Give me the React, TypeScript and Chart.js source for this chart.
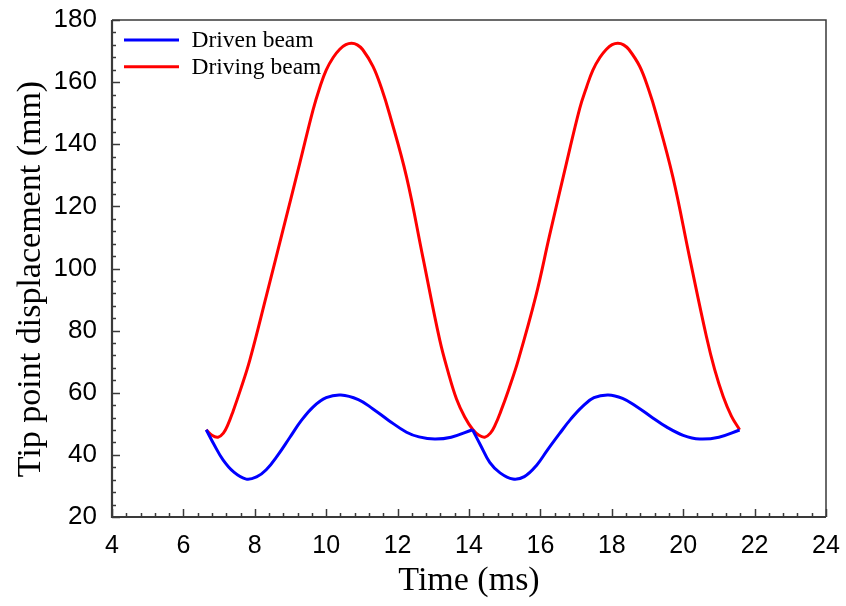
import React, { useEffect, useRef } from "react";
import { Chart, registerables } from "chart.js";

Chart.register(...registerables);

// Driven beam (blue), first cycle
const drivenTimeA = [6.64, 6.85, 7.11, 7.4, 7.76, 8.05, 8.32, 8.65, 8.98, 9.3, 9.63, 10.0, 10.41, 10.9, 11.31, 11.75, 12.25, 12.6, 13.04, 13.5, 14.1];
const drivenDispA = [48.1, 43.5, 38.4, 34.6, 32.2, 32.9, 35.2, 40.0, 45.6, 51.0, 55.4, 58.4, 59.3, 57.8, 54.8, 51.1, 47.3, 45.8, 45.1, 45.7, 48.1];

// Driven beam (blue), second cycle
const drivenTimeB = [14.1, 14.32, 14.58, 14.87, 15.23, 15.55, 15.89, 16.2, 16.54, 16.85, 17.19, 17.5, 17.9, 18.3, 18.69, 19.1, 19.53, 20.0, 20.46, 21.0, 21.58];
const drivenDispB = [48.1, 43.2, 37.6, 34.2, 32.2, 33.0, 36.6, 41.6, 46.9, 51.5, 55.7, 58.4, 59.3, 58.2, 55.6, 52.3, 49.0, 46.3, 45.1, 45.7, 48.0];

// Driving beam (red)
const drivingTime = [6.64, 6.8, 6.97, 7.12, 7.25, 7.39, 7.6, 7.86, 8.32, 8.79, 9.26, 9.63, 9.82, 10.0, 10.2, 10.38, 10.55, 10.71, 10.87, 11.02, 11.31, 11.55, 11.78, 12.25, 12.71, 13.18, 13.42, 13.65, 13.88, 14.11, 14.28, 14.44, 14.6, 14.74, 14.89, 15.11, 15.38, 15.87, 16.26, 16.73, 17.1, 17.29, 17.47, 17.67, 17.85, 18.01, 18.17, 18.33, 18.48, 18.78, 19.02, 19.25, 19.71, 20.18, 20.65, 20.88, 21.12, 21.35, 21.58];
const drivingDisp = [48.1, 46.3, 45.7, 47.0, 49.8, 54.0, 61.0, 70.5, 91.0, 112.4, 133.9, 151.0, 158.3, 163.9, 168.0, 170.6, 172.05, 172.5, 172.0, 170.5, 165.1, 158.0, 149.5, 129.5, 103.5, 77.0, 66.5, 58.0, 52.2, 48.1, 46.3, 45.7, 47.0, 49.8, 54.0, 61.0, 70.5, 91.0, 110.8, 133.9, 151.5, 158.3, 163.9, 168.0, 170.6, 172.05, 172.5, 172.0, 170.5, 165.1, 158.0, 149.5, 129.5, 103.5, 78.1, 67.5, 58.8, 52.5, 48.1];

const seriesLabels = ["Driven beam", "Driving beam"];
const seriesColors = ["#0000ff", "#ff0000"];
const xTitle = "Time (ms)";
const yTitle = "Tip point displacement (mm)";

const xMin = 4, xMax = 24, xStep = 2, xMinorDiv = 5;
const yMin = 20, yMax = 180, yStep = 20, yMinorDiv = 5;

const SANS = '"Liberation Sans", Arial, Helvetica, sans-serif';
const SERIF = '"Liberation Serif", "Times New Roman", Times, serif';

const toPoints = (xs: number[], ys: number[]) => xs.map((x, i) => ({ x, y: ys[i] }));

const framePlugin = {
  id: "frameTicksLegend",
  afterDatasetsDraw(chart: any) {
    const { ctx, chartArea } = chart;
    const { left, right, top, bottom } = chartArea;
    const xs = chart.scales.x;
    const ys = chart.scales.y;
    ctx.save();
    ctx.strokeStyle = "#3a3a3a";
    ctx.lineWidth = 1.5;
    const nx = Math.round((xMax - xMin) / xStep) * xMinorDiv;
    for (let i = 0; i <= nx; i++) {
      const v = xMin + (i * xStep) / xMinorDiv;
      const px = Math.round(xs.getPixelForValue(v)) + 0.5;
      const len = i % xMinorDiv === 0 ? 8 : 4;
      ctx.beginPath();
      ctx.moveTo(px, bottom);
      ctx.lineTo(px, bottom - len);
      ctx.stroke();
    }
    const ny = Math.round((yMax - yMin) / yStep) * yMinorDiv;
    for (let i = 0; i <= ny; i++) {
      const v = yMin + (i * yStep) / yMinorDiv;
      const py = Math.round(ys.getPixelForValue(v)) + 0.5;
      const len = i % yMinorDiv === 0 ? 8 : 4;
      ctx.beginPath();
      ctx.moveTo(left, py);
      ctx.lineTo(left + len, py);
      ctx.stroke();
    }
    // frame
    ctx.lineWidth = 1.5;
    ctx.beginPath();
    ctx.moveTo(left, top);
    ctx.lineTo(right, top);
    ctx.lineTo(right, bottom);
    ctx.stroke();
    ctx.lineWidth = 2.2;
    ctx.beginPath();
    ctx.moveTo(left, top);
    ctx.lineTo(left, bottom);
    ctx.lineTo(right, bottom);
    ctx.stroke();

    // legend inside plot (top-left)
    ctx.font = "23.5px " + SERIF;
    ctx.textBaseline = "middle";
    ctx.textAlign = "left";
    const lx = left + 12;
    const lineLen = 55;
    const rowH = 26.7;
    for (let i = 0; i < seriesLabels.length; i++) {
      const y = top + 20 + i * rowH;
      ctx.strokeStyle = seriesColors[i];
      ctx.lineWidth = 3;
      ctx.beginPath();
      ctx.moveTo(lx, y);
      ctx.lineTo(lx + lineLen, y);
      ctx.stroke();
      ctx.fillStyle = "#000";
      ctx.fillText(seriesLabels[i], lx + lineLen + 12.5, y + 1);
    }

    // y-axis title
    ctx.font = "34px " + SERIF;
    ctx.fillStyle = "#000";
    ctx.textAlign = "center";
    ctx.textBaseline = "middle";
    ctx.translate(31, (top + bottom) / 2 + 10.5);
    ctx.rotate(-Math.PI / 2);
    ctx.fillText(yTitle, 0, 0);
    ctx.restore();
  },
};

const zeroPad = (s: any) => {
  s.paddingTop = 0;
  s.paddingBottom = 0;
  s.paddingLeft = 0;
  s.paddingRight = 0;
};

export default function App() {
  const ref = useRef<HTMLCanvasElement>(null);
  useEffect(() => {
    if (!ref.current) return;
    const lineStyle = (color: string) => ({
      borderColor: color,
      backgroundColor: color,
      borderWidth: 3,
      pointRadius: 0,
      fill: false,
      tension: 0.4,
    });
    const chart = new Chart(ref.current, {
      type: "line",
      data: {
        datasets: [
          { label: seriesLabels[0], data: toPoints(drivenTimeA, drivenDispA), ...lineStyle(seriesColors[0]) },
          { label: seriesLabels[0] + " (2)", data: toPoints(drivenTimeB, drivenDispB), ...lineStyle(seriesColors[0]) },
          { label: seriesLabels[1], data: toPoints(drivingTime, drivingDisp), ...lineStyle(seriesColors[1]) },
        ],
      },
      options: {
        responsive: true,
        maintainAspectRatio: false,
        animation: false,
        parsing: false,
        layout: { padding: { top: 20, right: 20, left: 0, bottom: 0 } },
        plugins: { legend: { display: false }, tooltip: { enabled: false } },
        scales: {
          x: {
            type: "linear",
            min: xMin,
            max: xMax,
            ticks: { stepSize: xStep, font: { family: SANS, size: 25 }, color: "#000", padding: 14, maxRotation: 0, autoSkip: false },
            grid: { display: false, drawTicks: false },
            border: { display: false },
            title: { display: true, text: xTitle, font: { family: SERIF, size: 34 }, color: "#000", padding: { top: 0, bottom: 5 } },
            afterFit: (s: any) => { s.height = 89; zeroPad(s); },
          },
          y: {
            type: "linear",
            min: yMin,
            max: yMax,
            ticks: { stepSize: yStep, font: { family: SANS, size: 26 }, color: "#000", padding: 15 },
            grid: { display: false, drawTicks: false },
            border: { display: false },
            title: { display: false },
            afterFit: (s: any) => { s.width = 112; zeroPad(s); },
          },
        },
      },
      plugins: [framePlugin],
    } as any);
    return () => chart.destroy();
  }, []);
  return (
    <div style={{ position: "absolute", left: 0, top: 0, width: 846, height: 606 }}>
      <canvas ref={ref} />
    </div>
  );
}
